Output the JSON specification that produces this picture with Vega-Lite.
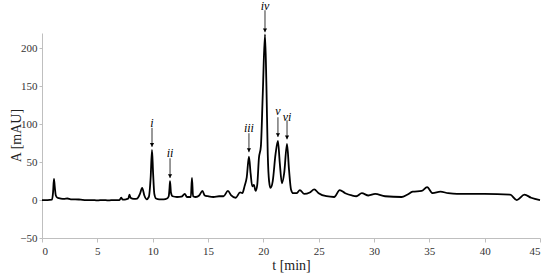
{
  "$schema": "https://vega.github.io/schema/vega-lite/v6.json",
  "width": 498,
  "height": 205,
  "autosize": {"type": "none"},
  "padding": {"left": 42, "top": 33, "right": 10, "bottom": 40},
  "background": "white",
  "config": {
    "view": {"stroke": null},
    "axis": {
      "grid": false,
      "domainColor": "#bfbfbf",
      "tickColor": "#bfbfbf",
      "tickSize": 4,
      "labelFont": "Liberation Serif",
      "labelFontSize": 11,
      "labelColor": "#333333",
      "titleFont": "Liberation Serif",
      "titleFontSize": 14,
      "titleFontWeight": "normal",
      "titleColor": "#222222"
    }
  },
  "datasets": {
    "trace": [
      {"t": 0, "A": 0}, {"t": 0.5, "A": 0}, {"t": 0.9, "A": 0.5}, {"t": 1.0, "A": 10}, {"t": 1.08, "A": 28}, {"t": 1.15, "A": 18}, {"t": 1.25, "A": 6}, {"t": 1.4, "A": 3}, {"t": 1.7, "A": 2}, {"t": 2.0, "A": 1.5}, {"t": 2.3, "A": 2}, {"t": 2.6, "A": 1}, {"t": 3.0, "A": 1}, {"t": 3.5, "A": 0.5}, {"t": 4.0, "A": 0}, {"t": 4.5, "A": 0}, {"t": 5.0, "A": -0.5}, {"t": 5.5, "A": 0}, {"t": 6.0, "A": -0.5}, {"t": 6.5, "A": 0}, {"t": 7.0, "A": 0}, {"t": 7.15, "A": 3}, {"t": 7.3, "A": 0.5}, {"t": 7.6, "A": 1}, {"t": 7.8, "A": 2}, {"t": 7.9, "A": 7}, {"t": 8.0, "A": 3}, {"t": 8.3, "A": 1.5}, {"t": 8.6, "A": 2}, {"t": 8.85, "A": 8}, {"t": 9.05, "A": 16}, {"t": 9.25, "A": 6}, {"t": 9.45, "A": 1}, {"t": 9.65, "A": 4}, {"t": 9.82, "A": 30}, {"t": 9.94, "A": 66}, {"t": 10.04, "A": 35}, {"t": 10.15, "A": 8}, {"t": 10.3, "A": 2}, {"t": 10.6, "A": 1}, {"t": 11.0, "A": 1}, {"t": 11.3, "A": 2}, {"t": 11.45, "A": 5}, {"t": 11.52, "A": 15}, {"t": 11.57, "A": 25}, {"t": 11.65, "A": 10}, {"t": 11.8, "A": 5}, {"t": 12.2, "A": 4}, {"t": 12.6, "A": 4.5}, {"t": 12.9, "A": 8}, {"t": 13.1, "A": 4}, {"t": 13.45, "A": 4}, {"t": 13.55, "A": 29}, {"t": 13.65, "A": 5}, {"t": 13.9, "A": 4}, {"t": 14.2, "A": 6}, {"t": 14.5, "A": 12}, {"t": 14.7, "A": 6}, {"t": 15.0, "A": 5}, {"t": 15.5, "A": 4}, {"t": 16.0, "A": 5}, {"t": 16.4, "A": 5}, {"t": 16.8, "A": 12}, {"t": 17.1, "A": 6}, {"t": 17.5, "A": 3}, {"t": 17.9, "A": 10}, {"t": 18.1, "A": 9}, {"t": 18.3, "A": 18}, {"t": 18.5, "A": 30}, {"t": 18.7, "A": 57}, {"t": 18.85, "A": 35}, {"t": 19.0, "A": 18}, {"t": 19.15, "A": 20}, {"t": 19.3, "A": 12}, {"t": 19.45, "A": 20}, {"t": 19.6, "A": 55}, {"t": 19.78, "A": 71}, {"t": 19.95, "A": 140}, {"t": 20.15, "A": 218}, {"t": 20.28, "A": 150}, {"t": 20.4, "A": 60}, {"t": 20.52, "A": 25}, {"t": 20.65, "A": 16}, {"t": 20.85, "A": 25}, {"t": 21.1, "A": 60}, {"t": 21.32, "A": 78}, {"t": 21.48, "A": 50}, {"t": 21.68, "A": 22}, {"t": 21.88, "A": 35}, {"t": 22.14, "A": 74}, {"t": 22.32, "A": 40}, {"t": 22.5, "A": 14}, {"t": 22.7, "A": 9}, {"t": 23.0, "A": 9}, {"t": 23.3, "A": 13}, {"t": 23.7, "A": 8}, {"t": 24.2, "A": 10}, {"t": 24.6, "A": 14}, {"t": 25.0, "A": 9}, {"t": 25.7, "A": 5}, {"t": 26.4, "A": 4}, {"t": 26.9, "A": 13}, {"t": 27.4, "A": 9}, {"t": 28.0, "A": 6}, {"t": 28.4, "A": 5}, {"t": 28.9, "A": 9}, {"t": 29.5, "A": 6}, {"t": 30.1, "A": 8}, {"t": 31.0, "A": 5}, {"t": 32.5, "A": 4}, {"t": 33.0, "A": 7}, {"t": 33.5, "A": 11}, {"t": 34.3, "A": 12}, {"t": 34.8, "A": 17}, {"t": 35.3, "A": 9}, {"t": 36.0, "A": 11}, {"t": 36.7, "A": 9}, {"t": 37.5, "A": 8}, {"t": 40.0, "A": 8}, {"t": 42.3, "A": 7}, {"t": 42.9, "A": 0}, {"t": 43.6, "A": 7}, {"t": 44.2, "A": 3}, {"t": 45.0, "A": 0}
    ],
    "peaks": [
      {"peak": "i", "t": 9.94, "label": 101, "top": 95, "tip": 70},
      {"peak": "ii", "t": 11.57, "label": 62, "top": 55, "tip": 29},
      {"peak": "iii", "t": 18.7, "label": 95, "top": 88, "tip": 63},
      {"peak": "iv", "t": 20.15, "label": 255, "top": 250, "tip": 221},
      {"peak": "v", "t": 21.32, "label": 117, "top": 109, "tip": 83},
      {"peak": "vi", "t": 22.14, "label": 110, "top": 105, "tip": 80}
    ]
  },
  "layer": [
    {
      "data": {"name": "trace"},
      "mark": {"type": "line", "color": "#000000", "strokeWidth": 1.8, "interpolate": "monotone"},
      "encoding": {
        "x": {
          "field": "t", "type": "quantitative",
          "scale": {"domain": [0, 45], "nice": false},
          "axis": {"values": [0, 5, 10, 15, 20, 25, 30, 35, 40, 45], "title": "t [min]", "titlePadding": 2, "labelPadding": 3}
        },
        "y": {
          "field": "A", "type": "quantitative",
          "scale": {"domain": [-50, 220], "nice": false, "zero": false},
          "axis": {"values": [-50, 0, 50, 100, 150, 200], "title": "A [mAU]", "titleX": -19, "titleY": 102, "tickSize": 3}
        }
      }
    },
    {
      "data": {"name": "peaks"},
      "mark": {"type": "rule", "color": "#000000", "strokeWidth": 0.8},
      "encoding": {
        "x": {"field": "t", "type": "quantitative"},
        "y": {"field": "top", "type": "quantitative"},
        "y2": {"field": "tip"}
      }
    },
    {
      "data": {"name": "peaks"},
      "mark": {"type": "point", "shape": "triangle-down", "filled": true, "color": "#000000", "size": 18, "opacity": 1, "yOffset": -2},
      "encoding": {
        "x": {"field": "t", "type": "quantitative"},
        "y": {"field": "tip", "type": "quantitative"}
      }
    },
    {
      "data": {"name": "peaks"},
      "mark": {"type": "text", "font": "Liberation Serif", "fontStyle": "italic", "fontSize": 12, "color": "#000000", "baseline": "middle", "align": "center"},
      "encoding": {
        "x": {"field": "t", "type": "quantitative"},
        "y": {"field": "label", "type": "quantitative"},
        "text": {"field": "peak"}
      }
    }
  ]
}
